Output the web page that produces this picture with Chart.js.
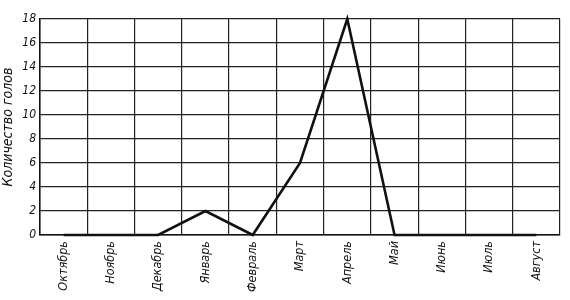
<!DOCTYPE html>
<html>
<head>
<meta charset="utf-8">
<script src="https://cdn.jsdelivr.net/npm/chart.js@4"></script>
<style>
html, body { margin:0; padding:0; background:#fff; }
#wrap { width:570px; height:300px; }
</style>
</head>
<body>
<div id="wrap"><canvas id="chart" width="570" height="300"></canvas></div>
<script>
// months from October to August
var months = ['Октябрь','Ноябрь','Декабрь','Январь','Февраль','Март','Апрель','Май','Июнь','Июль','Август'];
var heads = [0, 0, 0, 2, 0, 6, 18, 0, 0, 0, 0];
var yTicks = [0, 2, 4, 6, 8, 10, 12, 14, 16, 18];
var yTitle = 'Количество голов';

var fontFam = '"Liberation Sans Narrow", "DejaVu Sans Condensed", "Liberation Sans", sans-serif';

var ctx = document.getElementById('chart').getContext('2d');
var chart = new Chart(ctx, {
  type: 'line',
  data: {
    labels: months,
    datasets: [{
      data: heads,
      borderColor: '#111',
      borderWidth: 2.6,
      pointRadius: 0,
      tension: 0,
      fill: false,
      clip: false
    }]
  },
  options: {
    responsive: false,
    animation: false,
    layout: { padding: { top: 19, right: 10, left: 0, bottom: 0 } },
    plugins: { legend: { display: false }, tooltip: { enabled: false } },
    scales: {
      x: {
        type: 'category',
        offset: true,
        grid: { offset: true, color: '#222', lineWidth: 1.2, drawTicks: false },
        border: { color: '#111', width: 1.5 },
        ticks: {
          color: '#111',
          font: { family: fontFam, size: 12.5, style: 'italic' },
          maxRotation: 90, minRotation: 90,
          padding: 6
        },
        afterFit: function(s){ s.height = 65; }
      },
      y: {
        min: 0, max: 18,
        afterBuildTicks: function(s){ s.ticks = yTicks.map(function(v){ return {value: v}; }); },
        grid: { color: '#222', lineWidth: 1.2, drawTicks: false },
        border: { color: '#111', width: 1.5 },
        ticks: {
          color: '#111',
          font: { family: fontFam, size: 12, style: 'italic' },
          padding: 4
        },
        title: {
          display: true,
          text: yTitle,
          color: '#111',
          font: { family: fontFam, size: 14, style: 'italic' },
          padding: { top: 0, bottom: 1 }
        },
        afterFit: function(s){ s.width = 40; }
      }
    }
  }
});
</script>
</body>
</html>
